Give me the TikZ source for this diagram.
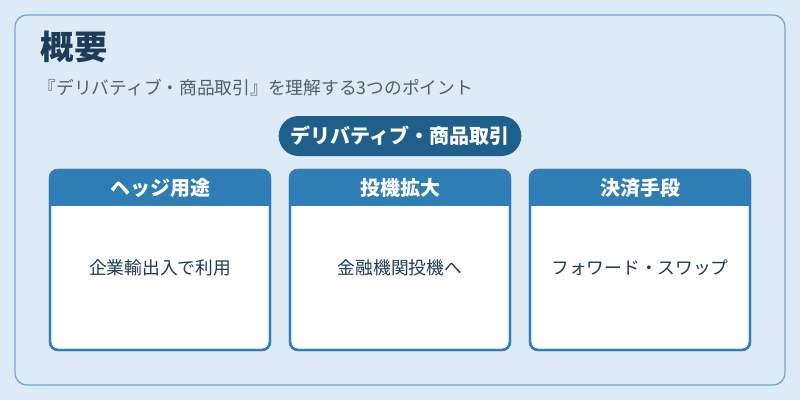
\documentclass[tikz,border=0pt]{standalone}
\usepackage{fontspec}
\setmainfont{Noto Sans CJK JP}
\definecolor{bg}{HTML}{DCEBF6}
\definecolor{frame}{HTML}{6AAAD6}
\definecolor{titlec}{HTML}{1F3B57}
\definecolor{subc}{HTML}{4F5F6F}
\definecolor{pill}{HTML}{1F5F8B}
\definecolor{head}{HTML}{2E7DB5}
\begin{document}
\begin{tikzpicture}[x=0.75pt,y=-0.75pt,
  card/.style={draw=head,line width=1.8pt,fill=white,rounded corners=6pt},
  headtxt/.style={text=white,font=\bfseries\fontsize{15}{17}\selectfont},
  bodytxt/.style={text=titlec,font=\fontsize{13.3}{15}\selectfont}]
\fill[bg] (0,0) rectangle (800,400);
\useasboundingbox (0,0) rectangle (800,400);
\draw[frame,line width=1pt,rounded corners=9pt] (15,15) rectangle (785,385);
\node[anchor=west,text=titlec,font=\bfseries\fontsize{25}{28}\selectfont] (title) at (36,47) {概要};
\node[anchor=west,text=subc,font=\fontsize{13.3}{15}\selectfont] (sub) at (34,88) {『デリバティブ・商品取引』を理解する3つのポイント};
\node[fill=pill,text=white,rounded corners=15pt,minimum width=182pt,minimum height=30pt,font=\bfseries\fontsize{15}{17}\selectfont] (pill) at (400,136) {デリバティブ・商品取引};
\foreach \x/\h/\b/\n in {50/ヘッジ用途/企業輸出入で利用/a,290/投機拡大/金融機関投機へ,530/決済手段/フォワード・スワップ/c}{
  \draw[card] (\x,170) rectangle (\x+220,350);
  \begin{scope}
  \clip[rounded corners=6pt] (\x,170) rectangle (\x+220,350);
  \fill[head] (\x,170) rectangle (\x+220,206);
  \end{scope}
  \draw[head,line width=1.8pt,rounded corners=6pt] (\x,170) rectangle (\x+220,350);
  \node[headtxt] (h\x) at (\x+110,188) {\h};
  \node[bodytxt] (b\x) at (\x+110,268) {\b};
}
\end{tikzpicture}
\end{document}
